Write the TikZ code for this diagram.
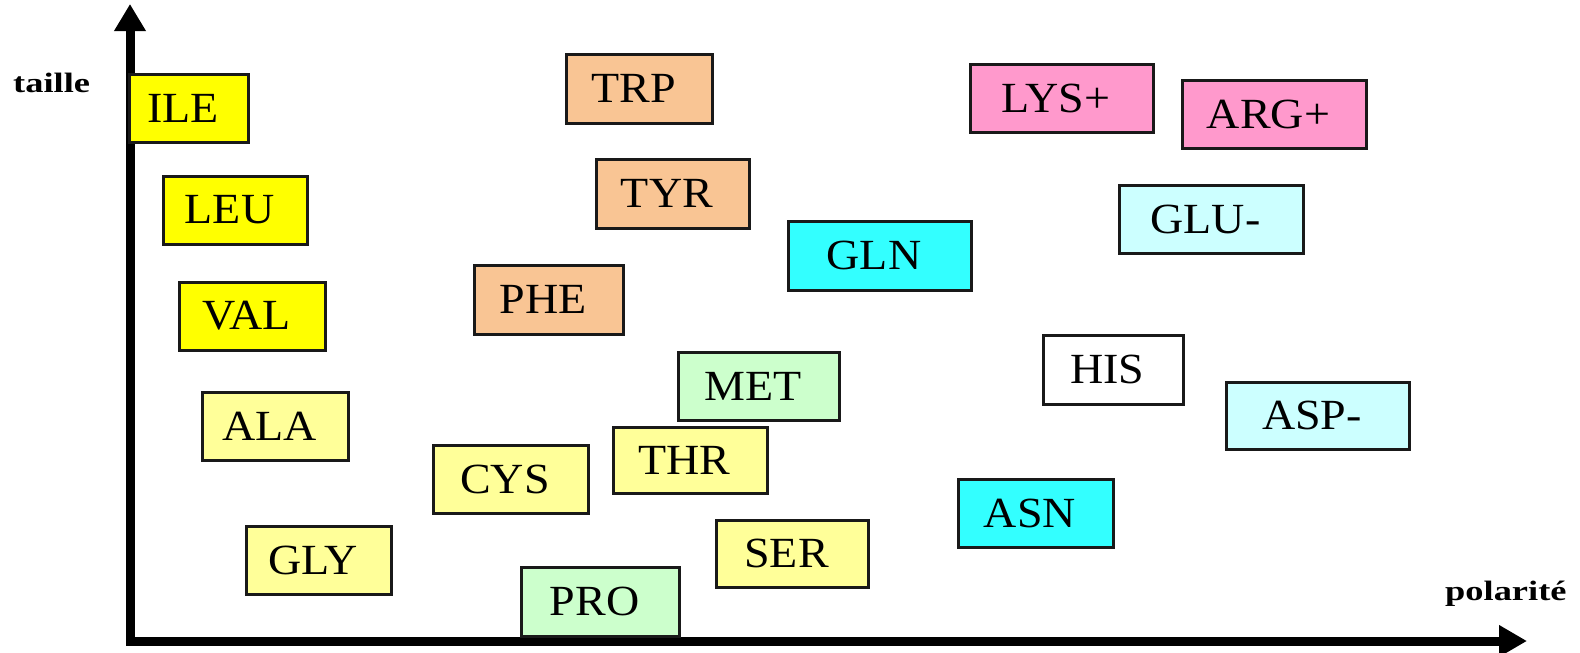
\documentclass[tikz,border=0pt]{standalone}
\usepackage{fontspec}
\setmainfont{Liberation Serif}
\usetikzlibrary{arrows.meta}
\definecolor{apolar}{HTML}{FFFF00}
\definecolor{small}{HTML}{FFFF99}
\definecolor{arom}{HTML}{F9C594}
\definecolor{mint}{HTML}{CCFFCC}
\definecolor{amide}{HTML}{33FFFF}
\definecolor{basic}{HTML}{FF99CC}
\definecolor{acid}{HTML}{CCFFFF}
\tikzset{
  aabox/.style={draw=black!90, line width=3pt, inner sep=0pt,
    font=\fontsize{43}{50}\selectfont},
  axislabel/.style={font=\bfseries\fontsize{28}{32}\selectfont, inner sep=0pt}
}
% amino acid box: name, centre x, centre y, width, height, colour, label
\newcommand\aminobox[7]{%
  \node[aabox, fill=#6, minimum width=#4pt, minimum height=#5pt] (#1) at (#2,#3)
    {\raisebox{-1.5pt}{\scalebox{1.07}[1]{#7}}\hspace*{11pt}};}
\begin{document}
\begin{tikzpicture}[x=1pt,y=-1pt]
\useasboundingbox (0,0) rectangle (1580,653);
\fill[white] (0,0) rectangle (1580,653);

% axes
\coordinate (origin) at (130,641);
\coordinate (ytip) at (130,4);
\coordinate (xtip) at (1527,641);
\draw[line width=9pt, line join=miter,
  {Triangle[length=27pt,width=30pt]}-{Triangle[length=28pt,width=30pt]}]
  (ytip) -- (origin) -- (xtip);

\node[axislabel, anchor=base west] (taille) at (13,92) {\scalebox{1.3}[1]{taille}};
\node[axislabel, anchor=base west] (polarite) at (1445,600) {\scalebox{1.3}[1]{polarité}};

% hydrophobic side chains
\aminobox{ile}{188.5}{108}{119}{68}{apolar}{ILE}
\aminobox{leu}{235}{210}{144}{68}{apolar}{LEU}
\aminobox{val}{252}{316}{146}{68}{apolar}{VAL}
\aminobox{ala}{275}{426}{146}{68}{small}{ALA}
\aminobox{gly}{318.5}{560}{145}{68}{small}{GLY}
\aminobox{cys}{510.5}{479}{155}{68}{small}{CYS}
\aminobox{thr}{690}{460}{154}{66}{small}{THR}
\aminobox{ser}{792}{553.5}{152}{67}{small}{SER}
% aromatic
\aminobox{trp}{639}{88.5}{146}{69}{arom}{TRP}
\aminobox{tyr}{672.5}{193.5}{153}{69}{arom}{TYR}
\aminobox{phe}{548.5}{299.5}{149}{69}{arom}{PHE}
% sulfur / cyclic
\aminobox{met}{758.5}{386}{161}{68}{mint}{MET}
\aminobox{pro}{600}{601.5}{158}{69}{mint}{PRO}
% amides
\aminobox{gln}{879.5}{255.5}{183}{69}{amide}{GLN}
\aminobox{asn}{1035.5}{513}{155}{68}{amide}{ASN}
% charged
\aminobox{lys}{1061.5}{98}{183}{68}{basic}{LYS+}
\aminobox{arg}{1274}{114}{184}{68}{basic}{ARG+}
\aminobox{glu}{1211}{219}{184}{68}{acid}{GLU-}
\aminobox{asp}{1317.5}{415.5}{183}{67}{acid}{ASP-}
\aminobox{his}{1113}{369.5}{140}{69}{white}{HIS}
\end{tikzpicture}
\end{document}
